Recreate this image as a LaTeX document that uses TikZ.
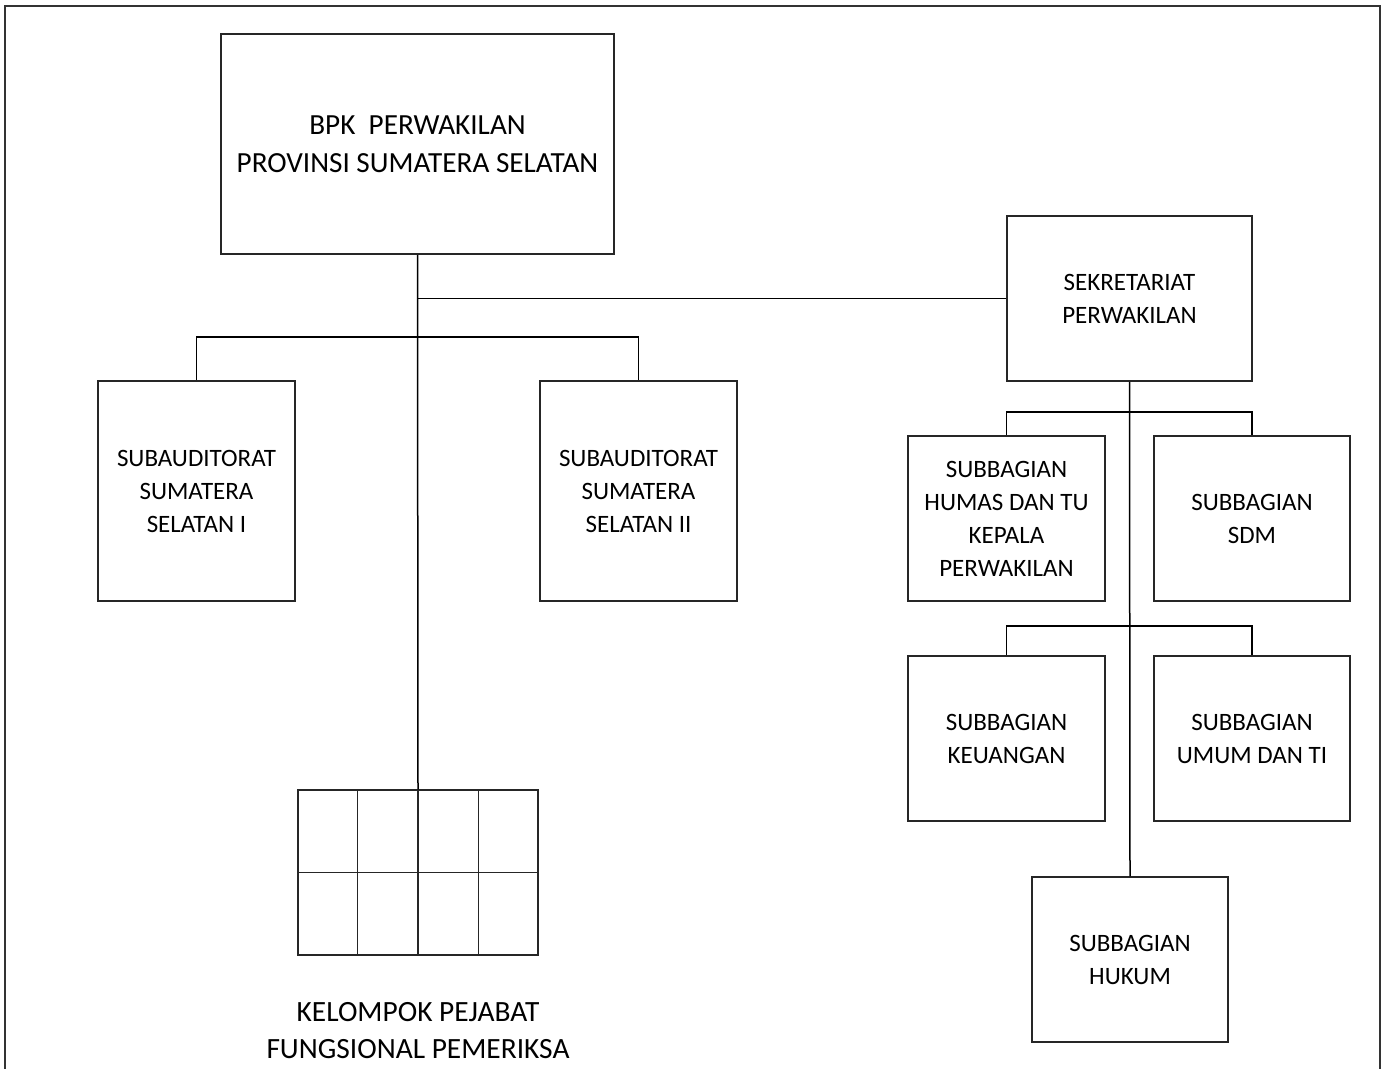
\documentclass[tikz,border=0pt]{standalone}
\usepackage{fontspec}
\setmainfont{Carlito}
\usetikzlibrary{calc}
\begin{document}
\begin{tikzpicture}[x=1pt,y=-1pt,
  box/.style={draw=black!85,line width=1.5pt,rectangle,inner sep=0pt,align=center,
    font=\fontsize{25}{33}\selectfont},
  conn/.style={draw=black,line width=1.5pt}]
\useasboundingbox (0,0) rectangle (1386,1068);
% outer frame
\draw[line width=1.8pt,black!80] (5,1070) -- (5,6) -- (1380,6) -- (1380,1070);
% nodes
\node[box,minimum width=393,minimum height=220,font=\fontsize{29.2}{38}\selectfont] (top) at (417.5,144) {BPK\ \ PERWAKILAN\\PROVINSI SUMATERA SELATAN};
\node[box,minimum width=197,minimum height=220] (sub1) at (196.5,491) {SUBAUDITORAT\\SUMATERA\\SELATAN I};
\node[box,minimum width=197,minimum height=220] (sub2) at (638.5,491) {SUBAUDITORAT\\SUMATERA\\SELATAN II};
\node[box,minimum width=240,minimum height=165] (grid) at (418,872.5) {};
\node[align=center,font=\fontsize{29.4}{37}\selectfont,inner sep=0pt] (kel) at (418,1030.5) {KELOMPOK PEJABAT\\FUNGSIONAL PEMERIKSA};
\node[box,minimum width=245,minimum height=165] (sek) at (1129.5,298.5) {SEKRETARIAT\\PERWAKILAN};
\node[box,minimum width=197,minimum height=165] (humas) at (1006.5,518.5) {SUBBAGIAN\\HUMAS DAN TU\\KEPALA\\PERWAKILAN};
\node[box,minimum width=196,minimum height=165] (sdm) at (1252,518.5) {SUBBAGIAN\\SDM};
\node[box,minimum width=197,minimum height=165] (keu) at (1006.5,738.5) {SUBBAGIAN\\KEUANGAN};
\node[box,minimum width=196,minimum height=165] (umum) at (1252,738.5) {SUBBAGIAN\\UMUM DAN TI};
\node[box,minimum width=196,minimum height=165] (hukum) at (1130,959.5) {SUBBAGIAN\\HUKUM};
% grid inner lines
\draw[black!85,line width=1.5pt] (grid.west) -- (grid.east);
\foreach \f in {0.25,0.5,0.75}
  \draw[black!85,line width=1.5pt] ($(grid.north west)!\f!(grid.north east)$) -- ($(grid.south west)!\f!(grid.south east)$);
% junctions
\coordinate (j1) at (418,298.5);
\coordinate (j2) at (418,337);
\coordinate (j3) at (1129.5,412);
\coordinate (j4) at (1129.5,626);
% connectors
\draw[conn] (top.south) -- (grid.north);
\draw[conn] (j1) -- (sek.west);
\draw[conn] (sub1.north) |- (j2) -| (sub2.north);
\draw[conn] (sek.south) -- (hukum.north);
\draw[conn] (humas.north) |- (j3) -| (sdm.north);
\draw[conn] (keu.north) |- (j4) -| (umum.north);
\end{tikzpicture}
\end{document}
